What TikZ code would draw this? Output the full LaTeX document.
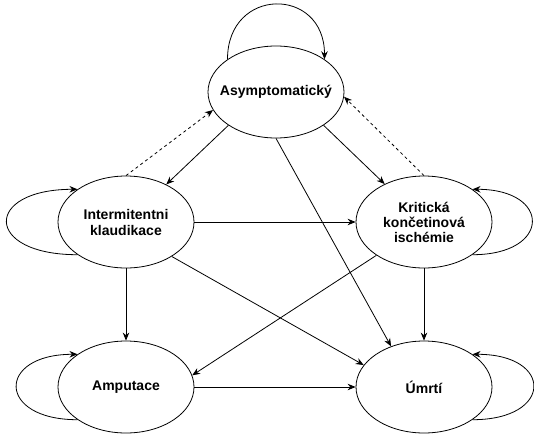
\documentclass[tikz,border=0pt]{standalone}
\usepackage{fontspec}
\setmainfont{Liberation Sans}
\usetikzlibrary{shapes.geometric,arrows.meta}
\tikzstyle{state}=[ellipse,draw,line width=0.8pt,minimum width=136pt,minimum height=92pt,
    inner xsep=-12pt,inner ysep=0pt,align=center,font=\fontsize{14}{16}\selectfont\bfseries]
\tikzstyle{trans}=[line width=0.8pt,-{Stealth[length=8pt,width=6.5pt]}]
\tikzstyle{back}=[trans,dash pattern=on 3pt off 3pt]

\begin{document}
\begin{tikzpicture}[x=1pt,y=-1pt]
  \useasboundingbox (0,0) rectangle (534,433);
  \node[state] (asym) at (276,92) {Asymptomatický};
  \node[state] (interm) at (126,222) {Intermitentni\\klaudikace};
  \node[state] (krit) at (424,222) {Kritická\\[-1pt]končetinová\\[-1pt]ischémie};
  \node[state] (amput) at (126,387) {Amputace};
  \node[state] (umrti) at (424,387) {Úmrtí};
  % self loops
  \draw[trans] (asym.146) .. controls +(0,-73) and +(0,-73) .. (asym.34);
  \draw[trans] (interm.214) .. controls +(-94,0) and +(-94,0) .. (interm.146);
  \draw[trans] (krit.-34) .. controls +(79,0) and +(79,0) .. (krit.34);
  \draw[trans] (amput.214) .. controls +(-81,0) and +(-81,0) .. (amput.146);
  \draw[trans] (umrti.-34) .. controls +(81,0) and +(81,0) .. (umrti.34);
  % transitions
  \draw[trans] (asym.215) -- (interm.43);
  \draw[trans] (asym.-35) -- (krit.136);
  \draw[trans] (asym.south) -- (umrti.129);
  \draw[back] (interm.north) -- (asym.196);
  \draw[back] (krit.north) -- (asym.-4);
  \draw[trans] (interm) -- (krit);
  \draw[trans] (interm) -- (amput);
  \draw[trans] (interm.-37) -- (umrti.160);
  \draw[trans] (krit.215) -- (amput.10);
  \draw[trans] (krit) -- (umrti);
  \draw[trans] (amput) -- (umrti);
\end{tikzpicture}
\end{document}
